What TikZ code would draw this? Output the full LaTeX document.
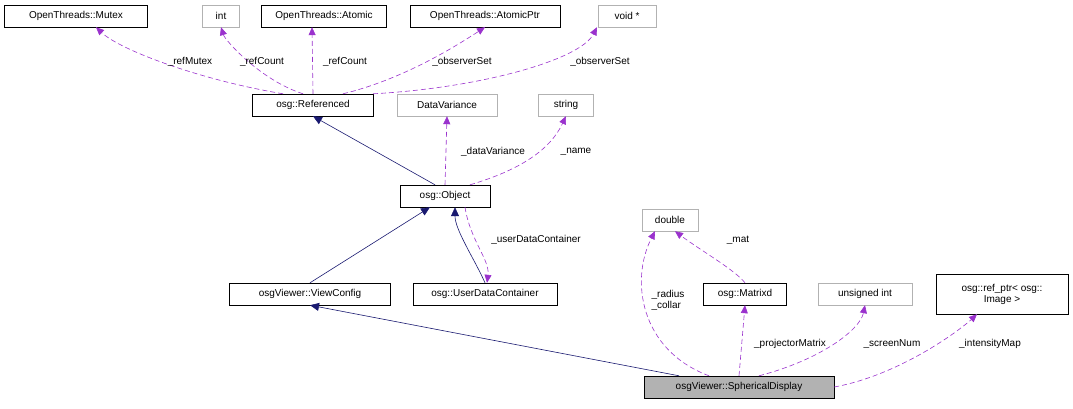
\documentclass[tikz,border=0pt]{standalone}
\usepackage{fontspec}
\setmainfont{Liberation Sans}
\usetikzlibrary{arrows.meta}
\definecolor{depcol}{HTML}{9A32CD}
\definecolor{inhcol}{HTML}{191970}
\begin{document}
\begin{tikzpicture}[x=1pt,y=-1pt,
 box/.style={draw=black,fill=white,inner sep=2pt,minimum height=22pt,font=\fontsize{10}{11}\selectfont,align=center},
 gbox/.style={box,draw=gray!60},
 dep/.style={draw=depcol,dashed,dash pattern=on 5pt off 3pt,semithick,-{Triangle[width=7pt,length=8pt,fill=depcol]}},
 inh/.style={draw=inhcol,semithick,-{Triangle[width=8pt,length=9pt,fill=inhcol]}},
 lbl/.style={font=\fontsize{10}{11}\selectfont,align=left,inner sep=1pt}]
\useasboundingbox (0,0) rectangle (1073,409);
\node[box,minimum width=143pt] (mutex) at (76,16) {OpenThreads::Mutex};
\node[gbox,minimum width=37pt] (int) at (221,16) {int};
\node[box,minimum width=125pt] (atomic) at (324,16) {OpenThreads::Atomic};
\node[box,minimum width=150pt] (atomicptr) at (485,16) {OpenThreads::AtomicPtr};
\node[gbox,minimum width=58pt] (void) at (627,16) {void *};
\node[box,minimum width=121pt] (ref) at (313,105) {osg::Referenced};
\node[gbox,minimum width=100pt] (dv) at (447,105) {DataVariance};
\node[gbox,minimum width=55pt] (str) at (566,105) {string};
\node[box,minimum width=90pt] (obj) at (445,196) {osg::Object};
\node[gbox,minimum width=56pt] (dbl) at (670,220) {double};
\node[box,minimum width=132pt,minimum height=40pt] (rp) at (1002,294) {osg::ref\_ptr< osg::\\Image >};
\node[box,minimum width=161pt] (vc) at (310,294) {osgViewer::ViewConfig};
\node[box,minimum width=144pt] (udc) at (485,294) {osg::UserDataContainer};
\node[box,minimum width=83pt] (mat) at (745,294) {osg::Matrixd};
\node[gbox,minimum width=94pt] (ui) at (865,294) {unsigned int};
\node[box,minimum width=190pt,fill=gray!60] (sd) at (739,387) {osgViewer::SphericalDisplay};
% inheritance
\draw[inh] ([xshift=-10pt]obj.north) -- (ref.south);
\draw[inh] (vc.north) -- ([xshift=-15pt]obj.south);
\draw[inh] (udc.north) .. controls (475,260) and (455,230) .. ([xshift=10pt]obj.south);
\draw[inh] ([xshift=-60pt]sd.north) -- (vc.south);
% dependencies
\draw[dep] ([xshift=-30pt]ref.north) .. controls (200,80) and (120,50) .. ([xshift=20pt]mutex.south);
\draw[dep] ([xshift=-10pt]ref.north) .. controls (260,80) and (225,40) .. (int.south);
\draw[dep] (ref.north) -- ([xshift=-12pt]atomic.south);
\draw[dep] ([xshift=30pt]ref.north) .. controls (400,80) and (450,50) .. (atomicptr.south);
\draw[dep] ([xshift=60pt]ref.north) .. controls (480,88) and (580,60) .. ([xshift=-30pt]void.south);
\draw[dep] (obj.north) -- (dv.south);
\draw[dep] ([xshift=25pt]obj.north) .. controls (520,170) and (550,150) .. (str.south);
\draw[dep] ([xshift=20pt]obj.south) .. controls (470,240) and (490,260) .. ([xshift=2pt]udc.north);
\draw[dep] ([xshift=-30pt]sd.north) .. controls (640,350) and (630,280) .. ([xshift=-15pt]dbl.south);
\draw[dep] (mat.north) .. controls (735,270) and (700,250) .. ([xshift=5pt]dbl.south);
\draw[dep] (sd.north) -- (mat.south);
\draw[dep] ([xshift=20pt]sd.north) .. controls (820,360) and (860,330) .. (ui.south);
\draw[dep] (sd.east) .. controls (900,375) and (960,330) .. ([xshift=-25pt]rp.south);
% labels
\node[lbl] (l1) at (190,62) {\_refMutex};
\node[lbl] (l2) at (262,62) {\_refCount};
\node[lbl] (l3) at (345,62) {\_refCount};
\node[lbl] (l4) at (462,62) {\_observerSet};
\node[lbl] (l5) at (600,62) {\_observerSet};
\node[lbl] (l6) at (493,152) {\_dataVariance};
\node[lbl] (l7) at (576,152) {\_name};
\node[lbl] (l8) at (536,240) {\_userDataContainer};
\node[lbl] (l9) at (668,300) {\_radius\\\_collar};
\node[lbl] (l10) at (738,240) {\_mat};
\node[lbl] (l11) at (790,344) {\_projectorMatrix};
\node[lbl] (l12) at (892,344) {\_screenNum};
\node[lbl] (l13) at (990,344) {\_intensityMap};
\end{tikzpicture}
\end{document}
